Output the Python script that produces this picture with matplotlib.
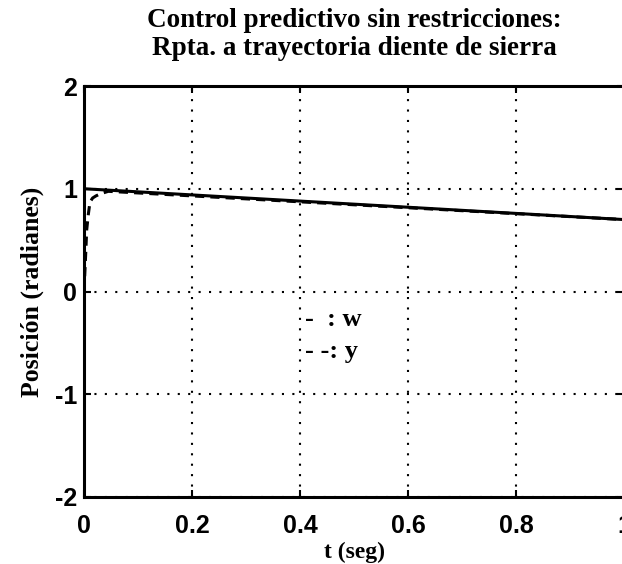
import matplotlib
matplotlib.use("Agg")
import matplotlib.pyplot as plt
import numpy as np

# reference trajectory w (sawtooth segment)
t_w = [0.0, 1.0]
w = [1.0, 0.70]

# system output y
t_y = [0.0, 0.003, 0.005, 0.008, 0.011, 0.016, 0.022, 0.03, 0.045, 1.0]
y = [0.0, 0.35, 0.60, 0.75, 0.87, 0.91, 0.93, 0.95, 0.975, 0.70]

xticks = [0, 0.2, 0.4, 0.6, 0.8, 1]
xticklabels = ["0", "0.2", "0.4", "0.6", "0.8", "1"]
yticks = [-2, -1, 0, 1, 2]
yticklabels = ["-2", "-1", "0", "1", "2"]

fig = plt.figure(figsize=(6.22, 5.64), dpi=100)
ax = fig.add_axes([84/622, 1-497/564, 540/622, (497-86)/564])

ax.plot(t_w, w, color="black", lw=2.2, solid_capstyle="butt")
ax.plot(t_y, y, color="black", lw=2.2, ls=(0, (3, 2)))

ax.set_xlim(0, 1)
ax.set_ylim(-2, 2)
ax.set_xticks(xticks)
ax.set_xticklabels(xticklabels)
ax.set_yticks(yticks)
ax.set_yticklabels(yticklabels)
ax.grid(True, color="black", ls=(0, (1, 4)), lw=1.5)
ax.tick_params(direction="in", length=5, width=1.5, labelsize=18, top=True, right=True)
ax.tick_params(axis="x", pad=12)
ax.tick_params(axis="y", pad=5)
for lab in ax.get_xticklabels() + ax.get_yticklabels():
    lab.set_fontfamily("Liberation Sans")
    lab.set_fontweight("bold")
for s in ax.spines.values():
    s.set_linewidth(2.2)

serif = dict(family="Liberation Serif", fontweight="bold")
ax.set_title("Control predictivo sin restricciones:\nRpta. a trayectoria diente de sierra",
             fontsize=19.5, pad=22, linespacing=1.2, **serif)
ax.set_xlabel("t (seg)", fontsize=17, labelpad=3, **serif)
ax.set_ylabel("Posición (radianes)", fontsize=18.5, labelpad=8, **serif)

ax.text(0.41, -0.27, "-  : w", fontsize=19, ha="left", va="center", **serif)
ax.text(0.41, -0.58, "- -: y", fontsize=19, ha="left", va="center", **serif)

fig.savefig("out.png", dpi=100)
